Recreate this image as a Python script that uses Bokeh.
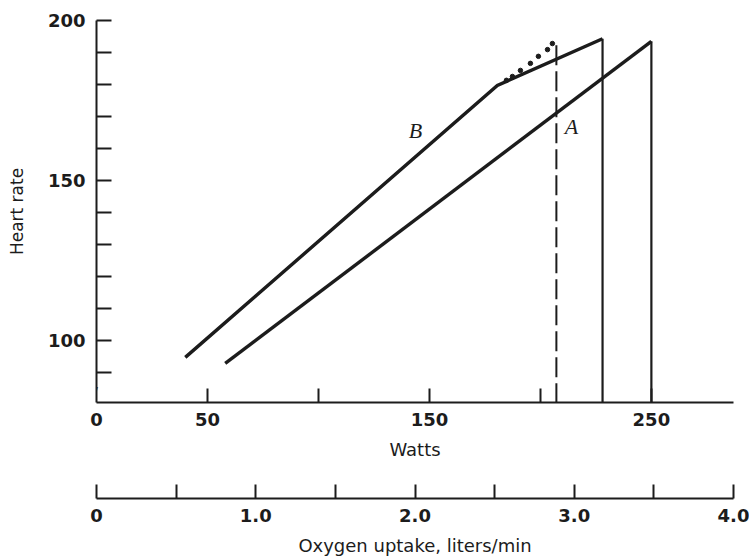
from bokeh.plotting import figure
from bokeh.models import Range1d, FixedTicker, Label, NumeralTickFormatter
from bokeh.layouts import column
from bokeh.embed import file_html
from bokeh.resources import INLINE

# ---------------- data ----------------
watt_label_values = [0, 50, 150, 250]
watt_tick_values = [50, 100, 150, 200, 250]
hr_label_values = [100, 150, 200]
hr_tick_values = [90, 100, 110, 120, 130, 140, 150, 160, 170, 180, 190, 200]
o2_label_values = [0, 1, 2, 3, 4]
o2_label_texts = ["0", "1.0", "2.0", "3.0", "4.0"]
o2_tick_values = [0, 0.5, 1.0, 1.5, 2.0, 2.5, 3.0, 3.5, 4.0]

watt_min, watt_max = 0, 287
hr_min, hr_max = 80.6, 200
o2_min, o2_max = 0, 4.0

# curve B (solid), with its levelling-off and cut-off
curve_b_watts = [40, 180.6, 228]
curve_b_hr = [94.7, 179.7, 194.3]
# curve A (solid)
curve_a_watts = [58, 250]
curve_a_hr = [92.8, 193.5]
# dotted continuation of B
dots_b_watts = [184.7, 187.4, 191.0, 195.5, 199.1, 203.2, 205.4]
dots_b_hr = [181.3, 182.5, 184.4, 186.6, 188.8, 190.9, 192.8]
# dashed marker
dashed_watts = 207.2
dashed_top_hr = 192.3

curve_labels = ["B", "A"]
curve_label_watts = [143.7, 214.0]
curve_label_hr = [165.6, 166.9]

INK = "#1c1c1c"
FONT = "DejaVu Sans"

# ---------------- main figure ----------------
p = figure(width=749, height=464, output_backend="svg", toolbar_location=None,
           x_range=Range1d(watt_min, watt_max), y_range=Range1d(hr_min, hr_max),
           min_border_left=96, min_border_right=16, min_border_top=20,
           min_border_bottom=62)
p.outline_line_color = None
p.xgrid.visible = False
p.ygrid.visible = False
p.background_fill_color = "white"
p.border_fill_color = "white"

# curves
p.line(curve_b_watts, curve_b_hr, line_color=INK, line_width=3.4, line_join="miter")
p.line(curve_a_watts, curve_a_hr, line_color=INK, line_width=3.4, line_join="miter")
# cut-off drops to the axis
p.segment(x0=[curve_b_watts[-1], curve_a_watts[-1]], y0=[curve_b_hr[-1], curve_a_hr[-1]],
          x1=[curve_b_watts[-1], curve_a_watts[-1]], y1=[hr_min, hr_min],
          line_color=INK, line_width=2.2)
# dotted continuation
p.scatter(dots_b_watts, dots_b_hr, size=4.5, color=INK)
# dashed vertical
p.segment(x0=[dashed_watts], y0=[dashed_top_hr], x1=[dashed_watts], y1=[hr_min],
          line_color=INK, line_width=2, line_dash="20 6")

for t, xw, yh in zip(curve_labels, curve_label_watts, curve_label_hr):
    p.add_layout(Label(x=xw, y=yh, text=t, text_font="Liberation Serif",
                       text_font_style="italic", text_font_size="22px",
                       text_color=INK, text_align="center", text_baseline="middle"))

# axis break mark
p.add_layout(Label(x=watt_min, y=hr_min, text="//", x_offset=-3, y_offset=4,
                   text_font=FONT, text_font_size="13px", text_color=INK,
                   text_align="center", text_baseline="bottom", level="overlay"))

ax = p.xaxis[0]
ax.ticker = FixedTicker(ticks=watt_label_values, minor_ticks=watt_tick_values)
ax.major_tick_in = 0
ax.major_tick_out = 0
ax.minor_tick_in = 14
ax.minor_tick_out = 0
ax.minor_tick_line_width = 2
ax.minor_tick_line_color = INK
ax.axis_line_width = 2
ax.axis_line_color = INK
ax.major_label_text_font = FONT
ax.major_label_text_font_size = "18px"
ax.major_label_text_font_style = "bold"
ax.major_label_text_color = INK
ax.major_label_standoff = 10
ax.axis_label = "Watts"
ax.axis_label_text_font = FONT
ax.axis_label_text_font_size = "18px"
ax.axis_label_text_font_style = "normal"
ax.axis_label_text_color = INK
ax.axis_label_standoff = 10

ay = p.yaxis[0]
ay.ticker = FixedTicker(ticks=hr_label_values, minor_ticks=hr_tick_values)
ay.major_tick_in = 0
ay.major_tick_out = 0
ay.minor_tick_in = 15
ay.minor_tick_out = 0
ay.minor_tick_line_width = 2
ay.minor_tick_line_color = INK
ay.axis_line_width = 2
ay.axis_line_color = INK
ay.major_label_text_font = FONT
ay.major_label_text_font_size = "18px"
ay.major_label_text_font_style = "bold"
ay.major_label_text_color = INK
ay.major_label_standoff = 11
ay.axis_label = "Heart rate"
ay.axis_label_text_font = FONT
ay.axis_label_text_font_size = "17px"
ay.axis_label_text_font_style = "normal"
ay.axis_label_text_color = INK
ay.axis_label_standoff = 18

# ---------------- oxygen uptake scale ----------------
p2 = figure(width=749, height=94, output_backend="svg", toolbar_location=None,
            x_range=Range1d(o2_min, o2_max), y_range=Range1d(0, 1),
            y_axis_location=None,
            min_border_left=96, min_border_right=16, min_border_top=0,
            min_border_bottom=59)
p2.outline_line_color = None
p2.xgrid.visible = False
p2.ygrid.visible = False

bx = p2.xaxis[0]
bx.ticker = FixedTicker(ticks=o2_label_values, minor_ticks=o2_tick_values)
bx.formatter = NumeralTickFormatter(format="0.0")
bx.major_label_overrides = {v: t for v, t in zip(o2_label_values, o2_label_texts)}
bx.major_tick_in = 0
bx.major_tick_out = 0
bx.minor_tick_in = 14
bx.minor_tick_out = 0
bx.minor_tick_line_width = 2
bx.minor_tick_line_color = INK
bx.axis_line_width = 2
bx.axis_line_color = INK
bx.major_label_text_font = FONT
bx.major_label_text_font_size = "18px"
bx.major_label_text_font_style = "bold"
bx.major_label_text_color = INK
bx.major_label_standoff = 10
bx.axis_label = "Oxygen uptake, liters/min"
bx.axis_label_text_font = FONT
bx.axis_label_text_font_size = "18px"
bx.axis_label_text_font_style = "normal"
bx.axis_label_text_color = INK
bx.axis_label_standoff = 10

layout = column(p, p2, spacing=0)
open("out.html", "w").write(file_html(layout, INLINE))
